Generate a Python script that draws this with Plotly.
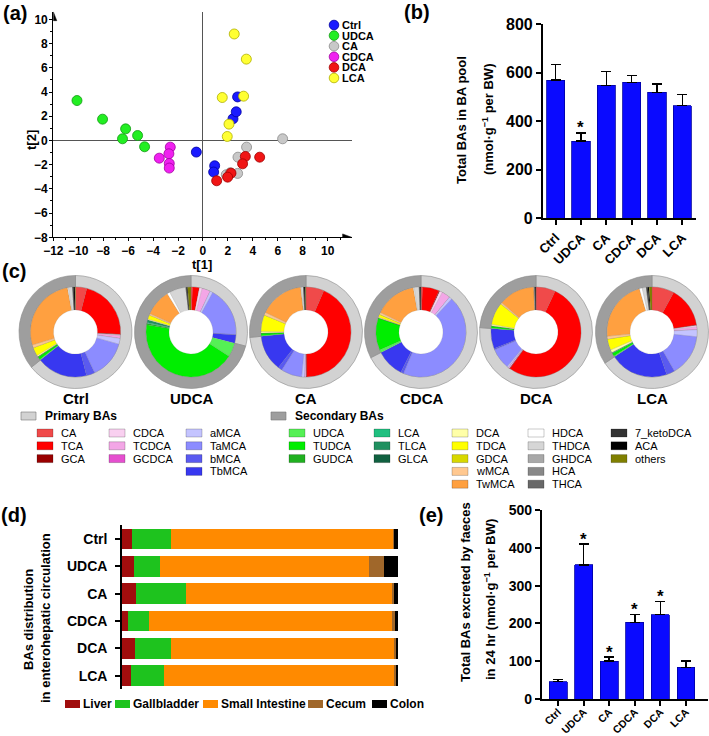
import plotly.graph_objects as go

W, H = 709, 736


def px(x):
    return x / W


def py(y):
    return 1 - y / H


FONT = "Arial, 'Liberation Sans', sans-serif"

groups = ["Ctrl", "UDCA", "CA", "CDCA", "DCA", "LCA"]
group_colors = ["#1a1aff", "#22ee22", "#c8c8c8", "#f020f0", "#f01515", "#ffff33"]
group_edges = ["#0000a0", "#119911", "#8a8a8a", "#a000a0", "#a00000", "#b0b000"]

# (a) PCA scores
t1_ctrl = [-0.53, 0.94, 0.86, 2.41, 2.67, 2.78]
t2_ctrl = [-0.96, -2.09, -2.61, 1.79, 2.37, 3.6]
t1_udca = [-10.1, -8.05, -6.2, -6.45, -5.24, -4.68]
t2_udca = [3.3, 1.76, 0.96, 0.14, 0.41, -0.52]
t1_ca = [6.39, 3.5, 2.81, 2.78, 1.87, 2.19]
t2_ca = [0.14, -0.55, -1.38, -2.72, -2.83, -2.67]
t1_cdca = [-2.62, -2.73, -3.5, -2.7, -2.7]
t2_cdca = [-0.55, -1.1, -1.46, -1.9, -2.28]
t1_dca = [4.55, 3.4, 3.18, 2.25, 1.98, 1.1]
t2_dca = [-1.38, -1.32, -1.93, -2.7, -3.03, -3.33]
t1_lca = [2.51, 3.48, 1.55, 3.26, 2.09, 1.95]
t2_lca = [8.8, 6.72, 3.55, 3.66, 1.35, 0.33]

# (b) total BA pool
pool_mean = [569, 318, 547, 560, 519, 464]
pool_err = [65, 34, 57, 29, 33, 45]
pool_sig = ["", "*", "", "", "", ""]

# (c) BA composition
species = ["CA", "TCA", "GCA", "CDCA", "TCDCA", "GCDCA", "aMCA", "TaMCA", "bMCA", "TbMCA",
           "UDCA", "TUDCA", "GUDCA", "LCA", "TLCA", "GLCA", "DCA", "TDCA", "GDCA", "wMCA", "TwMCA",
           "HDCA", "THDCA", "GHDCA", "HCA", "THCA", "7_ketoDCA", "ACA", "others"]
species_colors = ["#f04a4a", "#ff0000", "#990000", "#f9d0f0", "#f3a6e6", "#e54fcf",
                  "#c4c4ff", "#8c8cff", "#5a5af0", "#3838f0",
                  "#55f055", "#00ee00", "#20b020", "#20c080", "#209060", "#106040",
                  "#ffffa8", "#ffff00", "#d8d800", "#ffc890", "#ffa040",
                  "#ffffff", "#d6d6d6", "#a8a8a8", "#888888", "#686868",
                  "#333333", "#000000", "#7f7f00"]
n_primary = 10
comp_ctrl = [4, 21.5, 0.2, 0.3, 1.0, 0, 2, 13.5, 3, 18,
             0.3, 1.0, 0.2, 0, 0, 0, 0.5, 3.0, 0, 1.0, 26.5,
             0.3, 1.5, 0, 0, 0, 0.3, 0.5, 0.2]
comp_udca = [0.5, 2.5, 0, 1.0, 3.0, 0, 1.0, 18, 0, 3.0,
             5.0, 43.5, 0.5, 0.3, 1.0, 0, 0.3, 1.5, 0, 0.5, 9.5,
             1.0, 6.0, 0, 0, 0, 0.3, 0.3, 1.2]
comp_ca = [6.5, 43.5, 0.2, 0, 0.5, 0, 1.0, 7.5, 1.5, 13,
           0.2, 1.0, 0, 0, 0, 0, 0.5, 6.0, 0, 1.0, 16,
           0.2, 0.8, 0, 0, 0, 0.2, 0.5, 0.2]
comp_cdca = [0.5, 6.0, 0.3, 1.0, 3.0, 0, 1.0, 44, 1.0, 10,
             1.0, 11.5, 0, 0, 0, 0, 0.3, 1.0, 0, 0.7, 15,
             0.3, 1.8, 0, 0, 0, 0.3, 0.3, 0]
comp_dca = [7, 53, 0.2, 0, 0.5, 0, 0.5, 7.5, 0.5, 7.2,
            0.2, 0.8, 0, 0, 0, 0, 0.5, 8.0, 0, 0.5, 13,
            0, 0.3, 0, 0, 0, 0.2, 0.3, 0]
comp_lca = [8, 14.5, 0.2, 0.5, 1.0, 0, 2.5, 15, 3, 21,
            0.3, 1.2, 0, 0.3, 0, 0, 1.0, 4.0, 0, 1.0, 22,
            1.0, 1.5, 0, 0, 0, 0.5, 0.5, 1.0]
compositions = [comp_ctrl, comp_udca, comp_ca, comp_cdca, comp_dca, comp_lca]
ring_labels = ["Primary BAs", "Secondary BAs"]
ring_colors = ["#d2d2d2", "#9e9e9e"]
legend_columns = [["CA", "TCA", "GCA"], ["CDCA", "TCDCA", "GCDCA"],
                  ["aMCA", "TaMCA", "bMCA", "TbMCA"], ["UDCA", "TUDCA", "GUDCA"],
                  ["LCA", "TLCA", "GLCA"], ["DCA", "TDCA", "GDCA", "wMCA", "TwMCA"],
                  ["HDCA", "THDCA", "GHDCA", "HCA", "THCA"], ["7_ketoDCA", "ACA", "others"]]

# (d) distribution in enterohepatic circulation (%)
organs = ["Liver", "Gallbladder", "Small Intestine", "Cecum", "Colon"]
organ_colors = ["#a00d0d", "#1ec31e", "#ff8a00", "#a0672a", "#000000"]
liver = [3.6, 4.3, 5.1, 2.0, 4.6, 3.4]
gallbladder = [14.1, 9.5, 18.1, 7.8, 13.0, 11.8]
small_int = [80.6, 75.6, 74.9, 87.9, 81.3, 83.4]
cecum = [0.3, 5.6, 0.4, 1.1, 0.4, 0.6]
colon = [1.4, 5.0, 1.5, 1.2, 0.7, 0.8]

# (e) faecal excretion
faeces_mean = [46, 355, 100, 203, 223, 84]
faeces_err = [5, 55, 11, 21, 35, 17]
faeces_sig = ["", "*", "*", "*", "*", ""]

fig = go.Figure()
ann = []
shapes = []


def text_at(x, y, text, size, bold=True, angle=0, xanchor="center"):
    # place a label at pixel position (x, y) measured from the top-left corner
    ann.append(dict(x=px(x), y=py(y), xref="paper", yref="paper", text=text, showarrow=False,
                    xanchor=xanchor, yanchor="middle", textangle=angle,
                    font=dict(size=size, weight="bold" if bold else "normal")))


# ---- (a) scatter
t1_all = [t1_ctrl, t1_udca, t1_ca, t1_cdca, t1_dca, t1_lca]
t2_all = [t2_ctrl, t2_udca, t2_ca, t2_cdca, t2_dca, t2_lca]
for g, c, e, xs, ys in zip(groups, group_colors, group_edges, t1_all, t2_all):
    fig.add_trace(go.Scatter(x=xs, y=ys, mode="markers", name=g, xaxis="x", yaxis="y",
                             marker=dict(size=10, color=c, line=dict(color=e, width=0.8)),
                             showlegend=False))
for i, (g, c, e) in enumerate(zip(groups, group_colors, group_edges)):
    cy = 25 + 10.6 * i
    shapes.append(dict(type="circle", xref="paper", yref="paper",
                       x0=px(334 - 4.8), x1=px(334 + 4.8), y0=py(cy + 4.8), y1=py(cy - 4.8),
                       fillcolor=c, line=dict(color=e, width=0.8)))
    text_at(340, cy, g, 11, xanchor="left")
# axis arrowheads
shapes.append(dict(type="path", xref="x", yref="y", path="M 11.93 -8 L 11.2 -7.72 L 11.2 -8.28 Z",
                   fillcolor="black", line=dict(color="black", width=0.5)))
shapes.append(dict(type="path", xref="x", yref="y", path="M -12 10.64 L -12.28 9.9 L -11.72 9.9 Z",
                   fillcolor="black", line=dict(color="black", width=0.5)))
text_at(202, 264, "t[1]", 13)
text_at(31, 140, "t[2]", 13, angle=-90)

# ---- (b) bars
fig.add_trace(go.Bar(x=groups, y=pool_mean, xaxis="x2", yaxis="y2", width=0.72,
                     marker=dict(color="#0a0aff", line=dict(color="#0000a0", width=0.8)),
                     error_y=dict(type="data", array=pool_err, arrayminus=[0] * 6, symmetric=False,
                                  color="black", thickness=1.5, width=5),
                     showlegend=False))
for g, m, e, s in zip(groups, pool_mean, pool_err, pool_sig):
    if s:
        ann.append(dict(x=g, y=m + e, xref="x2", yref="y2", text=s, showarrow=False,
                        xanchor="center", yanchor="middle", yshift=5,
                        font=dict(size=17, weight="bold")))
text_at(461, 120, "Total BAs in BA pool", 13, angle=-90)
text_at(488, 120, "(nmol·g<sup>−1</sup> per BW)", 13, angle=-90)

# ---- (c) donuts
centers = [75.5, 191, 306, 421, 536, 652]
cyd, R, r = 332, 56.5, 45
for g, cx, vals in zip(groups, centers, compositions):
    ring = [sum(vals[:n_primary]), sum(vals[n_primary:])]
    fig.add_trace(go.Pie(labels=ring_labels, values=ring, hole=r / R, sort=False,
                         direction="clockwise", rotation=0, textinfo="none",
                         domain=dict(x=[px(cx - R), px(cx + R)], y=[py(cyd + R), py(cyd - R)]),
                         marker=dict(colors=ring_colors, line=dict(color="#8c8c8c", width=0.6)),
                         showlegend=False))
    fig.add_trace(go.Pie(labels=species, values=vals, hole=0.49, sort=False,
                         direction="clockwise", rotation=0, textinfo="none",
                         domain=dict(x=[px(cx - r), px(cx + r)], y=[py(cyd + r), py(cyd - r)]),
                         marker=dict(colors=species_colors,
                                     line=dict(color="rgba(110,110,110,0.5)", width=0.3)),
                         showlegend=False))
    text_at(cx, 398, g, 15)

# (c) legend
for label, col, x0 in zip(ring_labels, ring_colors, [21, 271]):
    shapes.append(dict(type="rect", xref="paper", yref="paper", x0=px(x0), x1=px(x0 + 15),
                       y0=py(420), y1=py(412), fillcolor=col, line=dict(color="#777", width=0.6)))
    text_at(x0 + 22, 416, label, 12, xanchor="left")
col_x = [37, 109, 186, 289, 374, 452, 528, 611]
for cxl, names in zip(col_x, legend_columns):
    for j, name in enumerate(names):
        ry = 433 + 12.8 * j
        shapes.append(dict(type="rect", xref="paper", yref="paper", x0=px(cxl), x1=px(cxl + 16),
                           y0=py(ry + 4), y1=py(ry - 4),
                           fillcolor=species_colors[species.index(name)],
                           line=dict(color="rgba(0,0,0,0.35)", width=0.6)))
        text_at(cxl + 22, ry, name, 11, bold=False, xanchor="left")

# ---- (d) stacked horizontal bars
for name, col, vals in zip(organs, organ_colors, [liver, gallbladder, small_int, cecum, colon]):
    fig.add_trace(go.Bar(x=vals, y=groups, orientation="h", xaxis="x3", yaxis="y3", width=0.76,
                         marker=dict(color=col, line=dict(width=0)), name=name, showlegend=False))
leg_x = [65, 115, 203, 308, 372]
for name, col, x0 in zip(organs, organ_colors, leg_x):
    shapes.append(dict(type="rect", xref="paper", yref="paper", x0=px(x0), x1=px(x0 + 15),
                       y0=py(708), y1=py(700), fillcolor=col, line=dict(width=0)))
    text_at(x0 + 16, 704, name, 12, xanchor="left")
text_at(28, 620, "BAs distribution", 13, angle=-90)
text_at(45, 618, "in enterohepatic circulation", 13, angle=-90)

# ---- (e) bars
fig.add_trace(go.Bar(x=groups, y=faeces_mean, xaxis="x4", yaxis="y4", width=0.70,
                     marker=dict(color="#0a0aff", line=dict(color="#0000a0", width=0.8)),
                     error_y=dict(type="data", array=faeces_err, arrayminus=[0] * 6, symmetric=False,
                                  color="black", thickness=1.5, width=5),
                     showlegend=False))
for g, m, e, s in zip(groups, faeces_mean, faeces_err, faeces_sig):
    if s:
        ann.append(dict(x=g, y=m + e, xref="x4", yref="y4", text=s, showarrow=False,
                        xanchor="center", yanchor="middle", yshift=5,
                        font=dict(size=17, weight="bold")))
text_at(465, 592, "Total BAs excreted by faeces", 13, angle=-90)
text_at(490, 600, "in 24 hr (nmol·g<sup>−1</sup> per BW)", 13, angle=-90)

# panel letters
for lab, x, y in [("(a)", 15, 13), ("(b)", 417, 12), ("(c)", 14, 271), ("(d)", 14, 515), ("(e)", 431, 515)]:
    text_at(x, y, lab, 20)

axis_common = dict(showline=True, linecolor="black", linewidth=1.5, ticks="outside",
                   tickcolor="black", tickwidth=1.5, ticklen=5, showgrid=False, zeroline=False,
                   automargin=False)
pca_axis = dict(showline=True, linecolor="black", linewidth=1.2, ticks="outside", ticklen=3,
                tickwidth=1.2, tickcolor="black", showgrid=False, dtick=2, tick0=0,
                minor=dict(dtick=1, ticks="outside", ticklen=2, tickcolor="black"),
                zeroline=True, zerolinecolor="#555", zerolinewidth=1.3, ticklabelstandoff=-1,
                tickfont=dict(size=12, weight="bold"), automargin=False)

fig.update_layout(
    width=W, height=H, autosize=False, margin=dict(l=0, r=0, t=0, b=0, autoexpand=False),
    paper_bgcolor="white", plot_bgcolor="rgba(0,0,0,0)",
    font=dict(family=FONT, color="black"), barmode="stack", showlegend=False,
    xaxis=dict(domain=[px(53.3), px(351.7)], range=[-12, 11.93], anchor="y", **pca_axis),
    yaxis=dict(domain=[py(237.3), py(11.7)], range=[-8, 10.64], anchor="x", **pca_axis),
    xaxis2=dict(domain=[px(542.7), px(696)], range=[-0.51, 5.54], anchor="y2", type="category",
                tickangle=-45, tickfont=dict(size=13, weight="bold"), **axis_common),
    yaxis2=dict(domain=[py(218.3), py(24)], range=[0, 800], anchor="x2", dtick=200,
                tickfont=dict(size=16, weight="bold"), **axis_common),
    xaxis3=dict(domain=[px(122), px(398)], range=[0, 100], anchor="y3", visible=False,
                automargin=False),
    yaxis3=dict(domain=[py(689.3), py(525.4)], range=[5.5, -0.5], anchor="x3", type="category",
                ticklabelstandoff=5, tickfont=dict(size=14, weight="bold"), **axis_common),
    xaxis4=dict(domain=[px(541.7), px(708)], range=[-0.64, 5.86], anchor="y4", type="category",
                tickangle=-45, ticklabelstandoff=-4, tickfont=dict(size=10.5, weight="bold"),
                **axis_common),
    yaxis4=dict(domain=[py(699), py(510)], range=[0, 500], anchor="x4", dtick=100,
                tickfont=dict(size=14, weight="bold"), **axis_common),
    annotations=ann, shapes=shapes,
)

# page body has a default 8px margin; remove it so the figure sits at the window origin
fig.write_html("out.html", config={"displayModeBar": False},
               post_script="document.body.style.margin='0';")
